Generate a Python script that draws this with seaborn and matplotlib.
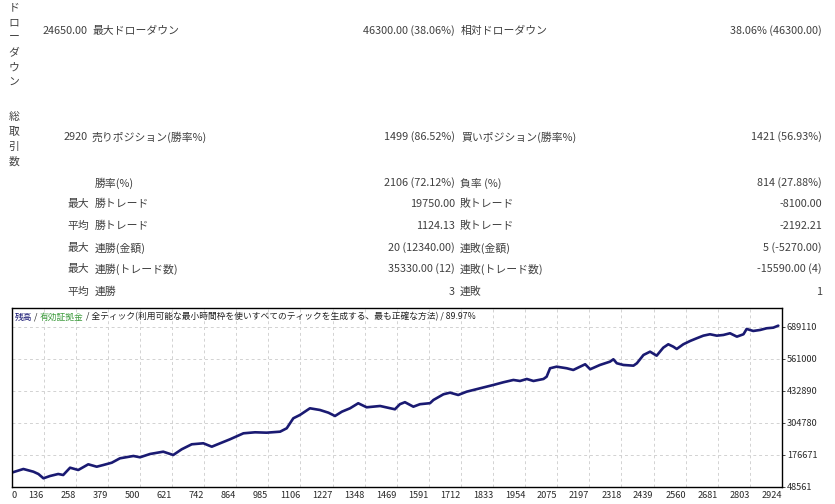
import matplotlib
matplotlib.use('Agg')
import matplotlib.pyplot as plt
import numpy as np
import seaborn as sns

sns.set_style('white')
plt.rcParams['font.family'] = ['Noto Sans CJK JP', 'DejaVu Sans']

W, H = 835, 504
TXT = '#404040'

# --- report table ---
dd_label = 'ドローダウン'
trades_label = '総取引数'
row_dd = ['24650.00', '最大ドローダウン', '46300.00 (38.06%)', '相対ドローダウン', '38.06% (46300.00)']
row_pos = ['2920', '売りポジション(勝率%)', '1499 (86.52%)', '買いポジション(勝率%)', '1421 (56.93%)']
prefixes = ['', '最大', '平均', '最大', '最大', '平均']
win_labels = ['勝率(%)', '勝トレード', '勝トレード', '連勝(金額)', '連勝(トレード数)', '連勝']
win_values = ['2106 (72.12%)', '19750.00', '1124.13', '20 (12340.00)', '35330.00 (12)', '3']
loss_labels = ['負率 (%)', '敗トレード', '敗トレード', '連敗(金額)', '連敗(トレード数)', '連敗']
loss_values = ['814 (27.88%)', '-8100.00', '-2192.21', '5 (-5270.00)', '-15590.00 (4)', '1']

# --- balance curve ---
trade_no = [0, 45, 83, 102, 121, 146, 177, 196, 222, 253,
            291, 323, 348, 380, 411, 462, 487, 525, 575, 613,
            645, 683, 727, 759, 784, 828, 879, 923, 967, 1018,
            1043, 1068, 1093, 1131, 1169, 1201, 1226, 1252, 1283, 1314,
            1346, 1397, 1453, 1472, 1491, 1523, 1548, 1586, 1599, 1637,
            1662, 1693, 1725, 1776, 1826, 1864, 1902, 1927, 1953, 1978,
            2016, 2028, 2041, 2066, 2104, 2129, 2155, 2174, 2193, 2230,
            2268, 2281, 2294, 2319, 2357, 2370, 2395, 2420, 2445, 2470,
            2489, 2508, 2521, 2546, 2572, 2597, 2622, 2647, 2673, 2698,
            2723, 2749, 2774, 2786, 2811, 2837, 2862, 2887, 2906]
balance_k = [105.8, 120.6, 109.8, 100.6, 83.4, 92.6, 100.6, 96.6, 125.8, 116.6,
             139.4, 129.8, 136.6, 145.8, 163.4, 172.7, 167.5, 180.7, 189.9, 176.7,
             199.5, 219.5, 223.5, 209.9, 220.7, 239.5, 263.5, 267.5, 266.0, 270.0,
             283.6, 323.6, 336.8, 363.6, 356.8, 346.0, 332.8, 350.0, 363.6, 383.7,
             367.6, 372.8, 359.6, 380.0, 388.0, 370.0, 380.0, 384.0, 396.9, 419.7,
             426.1, 416.9, 430.1, 443.7, 456.9, 467.7, 477.0, 472.9, 480.9, 472.9,
             480.9, 490.1, 523.8, 530.2, 523.8, 517.0, 530.2, 539.8, 519.8, 537.0,
             550.2, 559.8, 543.8, 537.0, 534.2, 543.8, 577.0, 590.2, 574.2, 606.2,
             619.8, 610.2, 601.0, 619.8, 633.1, 643.9, 654.3, 659.9, 654.3, 657.1,
             663.9, 650.3, 659.9, 681.1, 673.1, 677.1, 683.9, 686.3, 694.3]
y_ticks = [48561, 176671, 304780, 432890, 561000, 689110]
x_labels = ['0', '136', '258', '379', '500', '621', '742', '864', '985', '1106',
            '1227', '1348', '1469', '1591', '1712', '1833', '1954', '2075', '2197',
            '2318', '2439', '2560', '2681', '2803', '2924']
total_trades = 2920
title_parts = [('残高', '#10106e'), (' / ', '#222222'), ('有効証拠金', '#3a9a3a'),
               (' / 全ティック(利用可能な最小時間枠を使いすべてのティックを生成する、最も正確な方法) / 89.97%', '#222222')]


def fx(x):
    return x / W


def fy(y):
    return 1 - y / H


fig = plt.figure(figsize=(W / 100, H / 100), dpi=100)

fs = 7.8
# vertical group labels
for i, ch in enumerate(dd_label):
    fig.text(fx(14), fy(7 + 15.2 * i), ch, fontsize=fs, color=TXT, ha='center', va='center')
for i, ch in enumerate(trades_label):
    fig.text(fx(14), fy(117 + 15 * i), ch, fontsize=fs, color=TXT, ha='center', va='center')

for row, y in [(row_dd, 31), (row_pos, 137)]:
    fig.text(fx(88), fy(y), row[0], fontsize=fs, color=TXT, ha='right', va='center')
    fig.text(fx(92), fy(y), row[1], fontsize=fs, color=TXT, ha='left', va='center')
    fig.text(fx(455), fy(y), row[2], fontsize=fs, color=TXT, ha='right', va='center')
    fig.text(fx(461), fy(y), row[3], fontsize=fs, color=TXT, ha='left', va='center')
    fig.text(fx(822), fy(y), row[4], fontsize=fs, color=TXT, ha='right', va='center')

row_y = [183, 204, 226, 248, 269, 292]
for i, y in enumerate(row_y):
    if prefixes[i]:
        fig.text(fx(67), fy(y), prefixes[i], fontsize=fs, color=TXT, ha='left', va='center')
    fig.text(fx(95), fy(y), win_labels[i], fontsize=fs, color=TXT, ha='left', va='center')
    fig.text(fx(455), fy(y), win_values[i], fontsize=fs, color=TXT, ha='right', va='center')
    fig.text(fx(460), fy(y), loss_labels[i], fontsize=fs, color=TXT, ha='left', va='center')
    fig.text(fx(822), fy(y), loss_values[i], fontsize=fs, color=TXT, ha='right', va='center')

# --- chart ---
ax = fig.add_axes([fx(11.5), 1 - 487 / H, 770.5 / W, 179.5 / H])
balance = np.array(balance_k) * 1000
sns.lineplot(x=trade_no, y=balance, ax=ax, color='#1a1a72', linewidth=1.9)
ax.set_xlim(0, total_trades)
ax.set_ylim(48561, 767000)

xt = np.arange(len(x_labels)) * total_trades / (len(x_labels) - 1)
ax.set_xticks(xt)
ax.set_xticklabels(x_labels)
for k, lab in enumerate(ax.get_xticklabels()):
    lab.set_ha('left' if k == 0 else 'right')
ax.set_yticks(y_ticks)
ax.set_yticklabels([str(v) for v in y_ticks])
ax.yaxis.tick_right()
ax.tick_params(axis='both', labelsize=6.6, colors='#2a2a2a', length=2, width=0.6, pad=1.5)
ax.tick_params(axis='x', pad=1)
ax.set_xlabel('')
ax.set_ylabel('')

ax.grid(True, color='#d2d2d2', linestyle=(0, (3, 3)), linewidth=0.7)
for sp in ax.spines.values():
    sp.set_visible(True)
    sp.set_color('black')
    sp.set_linewidth(1.0)

prev = None
for txt, col in title_parts:
    if prev is None:
        prev = ax.annotate(txt, xy=(15, H - 317), xycoords='figure pixels',
                           fontsize=6.3, color=col, ha='left', va='center')
    else:
        prev = ax.annotate(txt, xy=(1, 0), xycoords=prev,
                           fontsize=6.3, color=col, ha='left', va='bottom')

fig.savefig('out.png', dpi=100)
